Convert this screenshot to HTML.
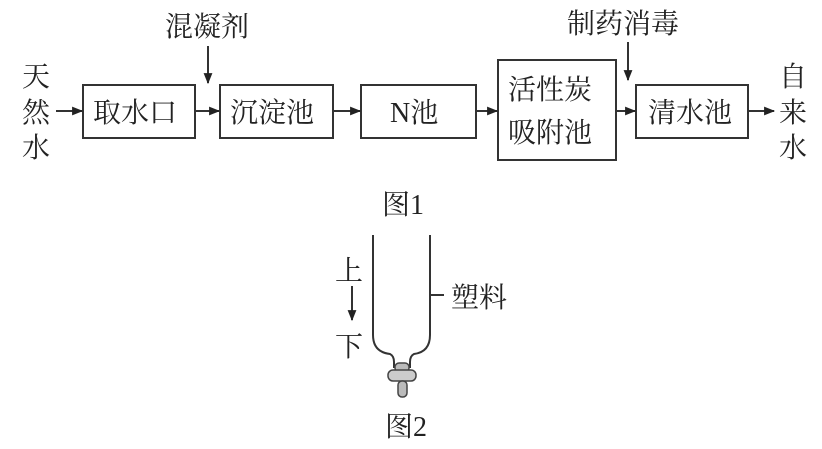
<!DOCTYPE html>
<html><head><meta charset="utf-8"><style>
body{margin:0;background:#fff}
svg text{font-family:"Liberation Serif","Noto Serif CJK SC",serif;fill:#222}
</style></head><body>
<svg width="822" height="444" viewBox="0 0 822 444" xmlns="http://www.w3.org/2000/svg">
<defs><marker id="a" viewBox="0 0 10 10" refX="9" refY="5" markerWidth="13" markerHeight="11" markerUnits="userSpaceOnUse" orient="auto"><path d="M0,1 L10,5 L0,9 z" fill="#222"/></marker></defs>
<g stroke="#333" stroke-width="2" fill="none">
<rect x="83" y="85" width="112" height="53"/>
<rect x="220" y="85" width="113" height="53"/>
<rect x="361" y="85" width="115" height="53"/>
<rect x="498" y="60" width="118" height="100"/>
<rect x="636" y="85" width="112" height="53"/>
<g marker-end="url(#a)" stroke-width="2">
<line x1="56" y1="111" x2="82" y2="111"/>
<line x1="195" y1="111" x2="219" y2="111"/>
<line x1="333" y1="111" x2="360" y2="111"/>
<line x1="476" y1="111" x2="497" y2="111"/>
<line x1="616" y1="111" x2="635" y2="111"/>
<line x1="748" y1="111" x2="774" y2="111"/>
<line x1="208" y1="46" x2="208" y2="83"/>
<line x1="628" y1="42" x2="628" y2="80"/>
<line x1="352" y1="286" x2="352" y2="320"/>
</g>
<path d="M373 235 V335 Q373 352 390 354 Q394 356 394 362 V368 M430 235 V335 Q430 352 414 354 Q410 356 410 362 V368"/>
<line x1="430" y1="295" x2="444" y2="295"/>
</g>
<rect x="395" y="363" width="14" height="9" rx="4" fill="#bbb" stroke="#444" stroke-width="1.5"/>
<rect x="388" y="370" width="28" height="11" rx="5" fill="#ccc" stroke="#444" stroke-width="1.5"/>
<rect x="398" y="381" width="9" height="16" rx="4" fill="#bbb" stroke="#444" stroke-width="1.5"/>
<g font-size="28">
<text x="165" y="36">混凝剂</text>
<text x="567" y="33">制药消毒</text>
<text x="22" y="86">天</text><text x="22" y="122">然</text><text x="22" y="157">水</text>
<text x="93" y="122">取水口</text>
<text x="230" y="122">沉淀池</text>
<text x="390" y="122">N池</text>
<text x="508" y="99">活性炭</text>
<text x="508" y="142">吸附池</text>
<text x="648" y="122">清水池</text>
<text x="779" y="86">自</text><text x="779" y="122">来</text><text x="779" y="157">水</text>
<text x="382" y="214">图1</text>
<text x="335" y="280">上</text>
<text x="335" y="356">下</text>
<text x="451" y="307">塑料</text>
<text x="385" y="436">图2</text>
</g>
</svg>
</body></html>
